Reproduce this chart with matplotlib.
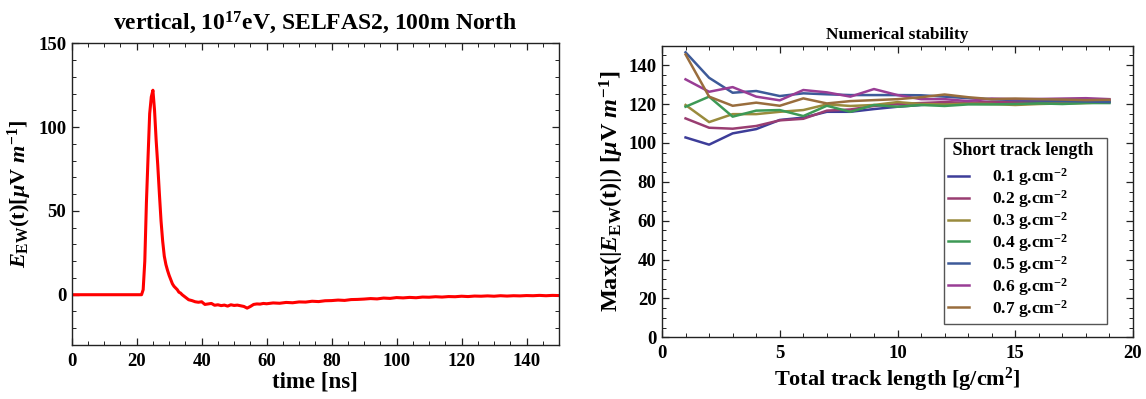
import matplotlib
matplotlib.use("Agg")
import matplotlib.pyplot as plt
from matplotlib.ticker import MultipleLocator

plt.rcParams['font.family'] = ['Liberation Serif', 'DejaVu Serif']
plt.rcParams['font.weight'] = 'bold'
plt.rcParams['font.size'] = 13
plt.rcParams['mathtext.fontset'] = 'custom'
plt.rcParams['mathtext.rm'] = 'Liberation Serif:bold'
plt.rcParams['mathtext.it'] = 'Liberation Serif:bold:italic'
plt.rcParams['mathtext.bf'] = 'Liberation Serif:bold'

# ---------------- Left panel data: E_EW(t) trace ----------------
time_ns = [0, 21.5, 22, 22.5, 23, 23.5, 24, 24.5, 25, 25.5, 26, 26.5, 27, 27.5,
           28, 28.5, 29, 29.5, 30, 30.5, 31, 31.5, 32, 32.5, 33, 33.5, 34, 35,
           36, 37, 38, 39, 40, 41, 42, 43, 44, 45, 46, 47, 48, 49, 50, 51, 52,
           53, 54, 55, 56, 57, 58, 59, 60, 62, 64, 66, 68, 70, 72, 74, 76, 78,
           80, 82, 84, 86, 88, 90, 92, 94, 96, 98, 100, 102, 104, 106, 108, 110,
           112, 114, 116, 118, 120, 122, 124, 126, 128, 130, 132, 134, 136, 138,
           140, 142, 144, 146, 148, 150]
e_ew = [0, 0, 3, 20, 55, 82, 108, 118, 122, 110, 92, 77, 60, 44,
        32, 23, 18, 14.5, 11.5, 9, 6.5, 5, 4, 3, 1.5, 1, 0, -1.5,
        -3, -3.5, -4.2, -4.5, -4.2, -5.8, -5.5, -5.2, -6.3, -6.0, -6.5, -6.2, -6.8, -6.0, -6.4, -6.2, -6.6,
        -7.0, -8.0, -7.0, -5.8, -5.5, -5.6, -5.2, -5.4, -4.9, -5.1, -4.6, -4.8, -4.3, -4.4, -3.9, -4.1, -3.6,
        -3.5, -3.2, -3.4, -2.9, -2.8, -2.6, -2.3, -2.5, -2.0, -2.2, -1.7, -1.9, -1.6, -1.8, -1.4, -1.5,
        -1.2, -1.4, -1.1, -1.2, -0.9, -1.1, -0.8, -0.9, -0.7, -0.9, -0.6, -0.8, -0.6, -0.7,
        -0.5, -0.6, -0.4, -0.6, -0.4, -0.5]

# ---------------- Right panel data: numerical stability ----------------
total_track = list(range(1, 20))
short_labels = ['0.1', '0.2', '0.3', '0.4', '0.5', '0.6', '0.7']
max_e_01 = [102.8, 99.1, 104.9, 107.1, 111.8, 113.0, 116.0, 116.0, 117.4, 118.6,
            119.5, 120.3, 120.5, 120.8, 121.0, 121.0, 121.2, 121.3, 121.3]
max_e_02 = [112.6, 107.8, 107.3, 108.7, 111.6, 112.4, 116.6, 117.2, 119.0, 120.0,
            120.5, 121.0, 120.6, 121.2, 121.0, 121.5, 121.3, 121.8, 121.8]
max_e_03 = [119.5, 110.7, 114.8, 114.8, 116.0, 116.9, 119.8, 119.0, 119.5, 121.0,
            120.0, 119.8, 120.2, 120.0, 119.5, 120.0, 120.3, 120.5, 121.0]
max_e_04 = [118.6, 123.8, 113.5, 116.6, 116.9, 113.8, 119.1, 116.0, 119.5, 118.6,
            119.5, 119.0, 119.8, 119.8, 120.0, 120.3, 120.0, 120.5, 120.5]
max_e_05 = [146.6, 133.5, 125.8, 126.7, 124.1, 125.5, 125.0, 124.6, 124.6, 124.6,
            124.5, 123.8, 123.0, 122.5, 122.0, 121.8, 121.5, 121.3, 121.0]
max_e_06 = [132.7, 126.3, 128.7, 123.8, 121.9, 127.2, 126.0, 123.8, 127.7, 124.6,
            122.5, 122.5, 121.5, 122.8, 122.5, 122.6, 122.8, 123.0, 122.5]
max_e_07 = [145.5, 123.8, 119.1, 120.7, 119.1, 122.9, 120.3, 121.5, 122.0, 122.5,
            123.5, 124.9, 123.5, 122.5, 122.8, 122.5, 122.3, 122.0, 122.2]
series = [max_e_01, max_e_02, max_e_03, max_e_04, max_e_05, max_e_06, max_e_07]
colors = [(0.24, 0.24, 0.6), (0.6, 0.24, 0.4428), (0.6, 0.547, 0.24),
          (0.24, 0.6, 0.3348), (0.24, 0.3528, 0.6), (0.6, 0.24, 0.5832),
          (0.6, 0.4291, 0.24)]

W, H = 1146, 399
fig = plt.figure(figsize=(W / 100, H / 100), dpi=100)

def px_axes(x0, y0, x1, y1):
    return fig.add_axes([x0 / W, 1 - y1 / H, (x1 - x0) / W, (y1 - y0) / H])

def style(ax):
    for s in ax.spines.values():
        s.set_color('#222222')
        s.set_linewidth(1.0)
    ax.tick_params(which='both', direction='in', top=True, right=True,
                   color='#222222', labelsize=13.5)
    ax.tick_params(axis='x', pad=5.5)
    ax.tick_params(axis='y', pad=4)
    ax.tick_params(which='major', length=5, width=0.9)
    ax.tick_params(which='minor', length=3, width=0.7)

# Left panel
axL = px_axes(71.7, 43.3, 559, 345)
axL.plot(time_ns, e_ew, color='red', lw=2.2)
axL.set_xlim(0, 150)
axL.set_ylim(-30, 150)
axL.xaxis.set_major_locator(MultipleLocator(20))
axL.xaxis.set_minor_locator(MultipleLocator(5))
axL.yaxis.set_major_locator(MultipleLocator(50))
axL.yaxis.set_minor_locator(MultipleLocator(10))
style(axL)
axL.set_title(r'vertical, 10$^{17}$eV, SELFAS2, 100m North', fontsize=17,
              fontweight='bold', pad=10)
axL.set_xlabel('time [ns]', fontsize=16.5, fontweight='bold', labelpad=1)
axL.set_ylabel(r'$E_{\mathrm{EW}}\mathrm{(t)[}\mu\mathrm{V}\ m^{-1}\mathrm{]}$',
               fontsize=16, labelpad=3)

# Right panel
axR = px_axes(662, 45.7, 1133, 337.3)
for lab, vals, c in zip(short_labels, series, colors):
    axR.plot(total_track, vals, color=c, lw=1.8,
             label=lab + r' g.cm$^{-2}$')
axR.set_xlim(0, 20)
axR.set_ylim(0, 150)
axR.xaxis.set_major_locator(MultipleLocator(5))
axR.xaxis.set_minor_locator(MultipleLocator(1))
axR.yaxis.set_major_locator(MultipleLocator(20))
axR.yaxis.set_minor_locator(MultipleLocator(5))
style(axR)
axR.set_title('Numerical stability', fontsize=12.5, fontweight='bold', pad=4.5)
axR.set_xlabel(r'Total track length [g/cm$^{2}$]', fontsize=16,
               fontweight='bold', labelpad=3)
axR.set_ylabel(r'$\mathrm{Max(|}E_{\mathrm{EW}}\mathrm{(t)|)\ [}\mu\mathrm{V}\ m^{-1}\mathrm{]}$',
               fontsize=17.5, labelpad=2)
leg = axR.legend(title=' Short track length  ', loc='upper left',
                 bbox_to_anchor=(0.599, 0.6835), fontsize=12.5,
                 title_fontproperties={'weight': 'bold', 'size': 13},
                 handlelength=1.2, handletextpad=1.3, labelspacing=0.0,
                 borderpad=0.25, borderaxespad=0.0, alignment='left',
                 frameon=True, fancybox=False, framealpha=1)
leg._legend_box.sep = 5
leg.get_frame().set_edgecolor('#555555')
leg.get_frame().set_linewidth(1.0)

fig.savefig('out.png', dpi=100)
